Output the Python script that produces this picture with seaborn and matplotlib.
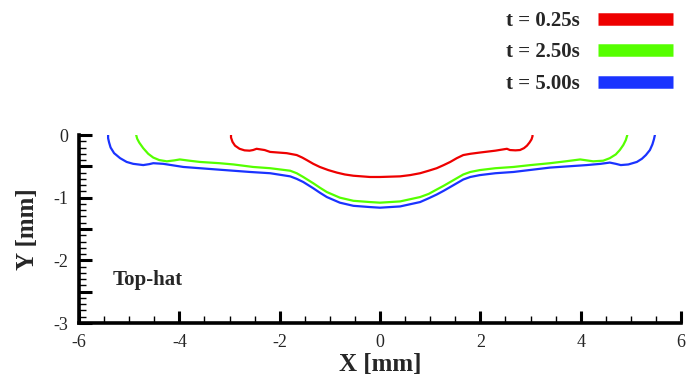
import numpy as np
import pandas as pd
import matplotlib
matplotlib.use("Agg")
import matplotlib.pyplot as plt
import seaborn as sns
from matplotlib.ticker import MultipleLocator, FixedLocator
from matplotlib.lines import Line2D

# ---- data ----
labels = ["t = 0.25s", "t = 2.50s", "t = 5.00s"]
colors = ["#ee0000", "#55ff00", "#1a33ff"]

x_025 = [-2.97, -2.97, -2.94, -2.89, -2.80, -2.70, -2.60, -2.53, -2.46, -2.30, -2.19, -1.86,
         -1.66, -1.55, -1.46, -1.33, -1.20, -1.03, -0.86, -0.70, -0.53, -0.20, 0.00, 0.40,
         0.60, 0.80, 0.97, 1.13, 1.27, 1.40, 1.53, 1.66, 1.80, 1.99, 2.30, 2.53, 2.59, 2.70,
         2.79, 2.87, 2.93, 2.98, 3.02, 3.04, 3.04]
y_025 = [0.00, -0.04, -0.11, -0.17, -0.22, -0.245, -0.25, -0.24, -0.22, -0.24, -0.27, -0.29,
         -0.32, -0.36, -0.40, -0.46, -0.51, -0.56, -0.60, -0.63, -0.65, -0.67, -0.67, -0.66,
         -0.64, -0.61, -0.57, -0.53, -0.48, -0.43, -0.37, -0.32, -0.30, -0.28, -0.25, -0.22,
         -0.24, -0.245, -0.24, -0.21, -0.17, -0.12, -0.07, -0.02, 0.00]

x_250 = [-4.86, -4.84, -4.80, -4.72, -4.62, -4.52, -4.40, -4.25, -4.10, -3.99, -3.80, -3.59,
         -3.20, -2.92, -2.53, -2.19, -1.79, -1.66, -1.53, -1.33, -1.20, -1.06, -0.80, -0.53,
         -0.20, 0.00, 0.40, 0.80, 0.97, 1.13, 1.27, 1.40, 1.53, 1.66, 1.80, 1.99, 2.30, 2.66,
         3.00, 3.39, 3.70, 3.99, 4.12, 4.25, 4.45, 4.58, 4.70, 4.78, 4.85, 4.90, 4.93]
y_250 = [0.00, -0.06, -0.12, -0.21, -0.30, -0.36, -0.40, -0.42, -0.405, -0.39, -0.41, -0.43,
         -0.45, -0.47, -0.51, -0.53, -0.57, -0.61, -0.67, -0.77, -0.84, -0.91, -1.00, -1.05,
         -1.07, -1.08, -1.06, -0.99, -0.94, -0.87, -0.81, -0.75, -0.69, -0.63, -0.59, -0.56,
         -0.53, -0.51, -0.48, -0.45, -0.42, -0.39, -0.405, -0.42, -0.41, -0.37, -0.31, -0.24,
         -0.16, -0.08, 0.00]

x_500 = [-5.42, -5.42, -5.40, -5.37, -5.30, -5.18, -5.05, -4.92, -4.72, -4.60, -4.52, -4.32,
         -3.92, -3.26, -2.59, -2.19, -1.79, -1.66, -1.53, -1.33, -1.20, -1.06, -0.80, -0.53,
         -0.20, 0.00, 0.40, 0.80, 0.97, 1.13, 1.27, 1.40, 1.53, 1.66, 1.80, 1.99, 2.30, 2.66,
         3.39, 4.12, 4.40, 4.58, 4.70, 4.80, 4.95, 5.12, 5.22, 5.30, 5.38, 5.43, 5.46, 5.48]
y_500 = [0.00, -0.05, -0.12, -0.20, -0.29, -0.37, -0.43, -0.46, -0.48, -0.465, -0.45, -0.46,
         -0.51, -0.55, -0.59, -0.61, -0.66, -0.70, -0.75, -0.85, -0.92, -0.99, -1.08, -1.13,
         -1.15, -1.16, -1.14, -1.07, -1.01, -0.95, -0.89, -0.83, -0.77, -0.71, -0.67, -0.64,
         -0.61, -0.59, -0.52, -0.48, -0.46, -0.44, -0.46, -0.48, -0.47, -0.43, -0.38, -0.32,
         -0.24, -0.15, -0.07, 0.00]

x_ticks = [-6, -4, -2, 0, 2, 4, 6]
y_ticks = [0, -1, -2, -3]

frames = []
for lab, xs, ys in zip(labels, [x_025, x_250, x_500], [y_025, y_250, y_500]):
    frames.append(pd.DataFrame({"X": xs, "Y": ys, "t": lab}))
df = pd.concat(frames, ignore_index=True)

# ---- style ----
sns.set_style("white")
plt.rcParams["font.family"] = ["Liberation Serif", "DejaVu Serif"]

fig = plt.figure(figsize=(6.91, 3.80), dpi=100)
ax = fig.add_axes([79 / 691, 1 - 323 / 380, (681 - 79) / 691, (323 - 135) / 380])

sns.lineplot(data=df, x="X", y="Y", hue="t", palette=dict(zip(labels, colors)),
             sort=False, estimator=None, linewidth=1.6, legend=False, ax=ax)

ax.set_xlim(-6, 6)
ax.set_ylim(-3, 0)
ax.xaxis.set_major_locator(FixedLocator(x_ticks))
ax.xaxis.set_minor_locator(MultipleLocator(0.5))
ax.yaxis.set_major_locator(MultipleLocator(0.5))
ax.yaxis.set_minor_locator(MultipleLocator(0.1))
ax.set_yticklabels([("%d" % v if abs(v - round(v)) < 1e-9 else "") for v in ax.get_yticks()])
ax.set_xticklabels(["%d" % v for v in x_ticks])

for s in ["top", "right"]:
    ax.spines[s].set_visible(False)
for s in ["left", "bottom"]:
    ax.spines[s].set_linewidth(2.6)
    ax.spines[s].set_color("black")

ax.tick_params(axis="both", which="major", direction="in", length=9, width=2.2,
               labelsize=13, pad=8, color="black")
ax.tick_params(axis="both", which="minor", direction="in", length=5, width=1.0, color="black")
ax.tick_params(left=True, bottom=True, which="both")

ax.set_xlabel("X [mm]", fontsize=18, fontweight="bold", labelpad=1)
ax.set_ylabel("Y [mm]", fontsize=18, fontweight="bold", labelpad=10)

ax.text(-5.32, -2.40, "Top-hat", fontsize=15, fontweight="bold", ha="left", va="baseline")

handles = [Line2D([0], [0], color=c, lw=9, solid_capstyle="butt") for c in colors]
fig.legend(handles, labels, loc="upper right", bbox_to_anchor=(673 / 691, 1 - 11 / 380),
           bbox_transform=fig.transFigure, frameon=False, markerfirst=False,
           prop={"family": "Liberation Serif", "weight": "bold", "size": 15},
           handlelength=3.6, handletextpad=0.9, labelspacing=0.55,
           borderpad=0, borderaxespad=0)

fig.savefig("out.png", dpi=100)
